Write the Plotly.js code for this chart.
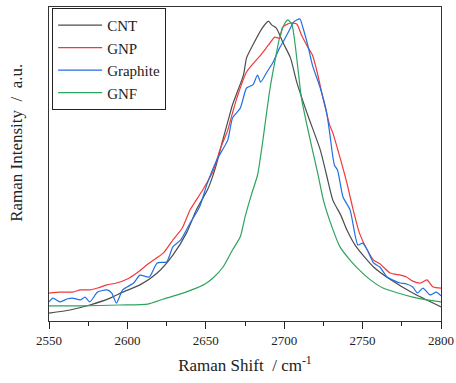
<!DOCTYPE html>
<html>
<head>
<meta charset="utf-8">
<script src="https://cdn.plot.ly/plotly-3.0.1.min.js"></script>
<style>html,body{margin:0;padding:0;background:#fff}#chart{width:456px;height:383px}</style>
</head>
<body>
<div id="chart"></div>
<script>
var seriesNames = ["CNT", "GNP", "Graphite", "GNF"];

var cntX = [2550,2563.4,2576,2589,2597,2608,2619,2629,2638,2644,2651,2654,2657,2660,2664,2667,2674,2676,2680,2686,2690,2692,2695,2699,2704,2708,2715,2723,2727,2731,2736,2740,2746,2757,2768,2782,2800];
var cntY = [0.025,0.035,0.051,0.073,0.092,0.115,0.153,0.210,0.283,0.354,0.417,0.455,0.503,0.561,0.634,0.688,0.783,0.838,0.879,0.933,0.955,0.943,0.933,0.889,0.838,0.761,0.656,0.545,0.465,0.385,0.338,0.290,0.236,0.172,0.131,0.089,0.045];

var gnpX = [2550,2557,2565,2570,2576,2581,2587,2593,2600,2606,2614,2623,2629,2635,2640,2648,2655,2659,2664,2667,2670,2676,2685,2690,2694,2697,2699,2704,2708,2711,2715,2718,2721,2725,2729,2731,2736,2740,2744,2748,2753,2757,2761,2767.5,2774,2778,2782,2787,2791,2795,2800];
var gnpY = [0.089,0.092,0.092,0.099,0.099,0.105,0.115,0.121,0.134,0.153,0.185,0.217,0.258,0.296,0.354,0.417,0.481,0.545,0.608,0.662,0.713,0.793,0.847,0.879,0.904,0.901,0.936,0.949,0.946,0.911,0.873,0.847,0.793,0.704,0.624,0.599,0.513,0.439,0.354,0.280,0.226,0.194,0.182,0.153,0.146,0.140,0.127,0.121,0.131,0.108,0.105];

var graphiteX = [2550,2552.5,2557,2561.5,2565,2570,2573,2576,2581,2587,2590,2593,2597,2604,2608,2614,2619,2625,2629,2634,2640,2646,2651,2657,2664,2667,2672,2676,2680,2683,2685,2689,2693,2697,2700,2704,2706,2710,2712,2715,2718,2723,2727,2729,2732,2734,2737.5,2742,2747,2750,2753,2757,2761,2765.6,2769,2774,2778,2782,2785,2788.5,2793,2797,2800];
var graphiteY = [0.061,0.073,0.061,0.070,0.073,0.067,0.076,0.061,0.092,0.099,0.089,0.057,0.099,0.121,0.146,0.140,0.185,0.188,0.236,0.258,0.312,0.363,0.439,0.513,0.576,0.646,0.678,0.742,0.752,0.783,0.761,0.793,0.825,0.869,0.895,0.933,0.952,0.962,0.933,0.879,0.815,0.742,0.666,0.599,0.497,0.481,0.395,0.354,0.242,0.248,0.226,0.185,0.172,0.140,0.131,0.121,0.118,0.108,0.089,0.105,0.083,0.092,0.080];

var gnfX = [2550,2570,2595,2613,2623,2632,2641,2649.5,2654.6,2661,2667,2672,2675,2679,2683,2686,2689,2691,2694,2697,2700.5,2702.4,2705,2707,2709,2711,2714.5,2718,2721.6,2725,2730.5,2735.6,2742,2748,2755,2763,2772.6,2782,2791,2800];
var gnfY = [0.048,0.048,0.051,0.054,0.070,0.083,0.099,0.118,0.137,0.172,0.226,0.268,0.331,0.401,0.465,0.561,0.672,0.742,0.825,0.901,0.949,0.959,0.943,0.879,0.793,0.710,0.624,0.545,0.465,0.385,0.299,0.236,0.194,0.162,0.131,0.105,0.089,0.076,0.067,0.061];

var xTickVals = [2550,2600,2650,2700,2750,2800];

var colors = ["#4d4d4d", "#f03a3a", "#1f6fe5", "#2ea35e"];
var xs = [cntX, gnpX, graphiteX, gnfX];
var ys = [cntY, gnpY, graphiteY, gnfY];

var traces = seriesNames.map(function(n, i){
  return {x: xs[i], y: ys[i], name: n, type: 'scatter', mode: 'lines',
    line: {color: colors[i], width: 1.2, shape: 'spline', smoothing: 0.6}, legendgroup: 'g' + i};
});

var font = "Times New Roman, Liberation Serif, DejaVu Serif, serif";
var layout = {
  width: 456, height: 383,
  margin: {l: 49, r: 15, t: 7, b: 62},
  paper_bgcolor: '#fff', plot_bgcolor: '#fff',
  font: {family: font, color: '#222', size: 13},
  showlegend: true,
  legend: {x: 0.008, y: 0.997, xanchor: 'left', yanchor: 'top',
    bgcolor: '#fff', bordercolor: '#222', borderwidth: 1,
    font: {family: font, size: 15, color: '#222'}, tracegroupgap: 0,
    itemwidth: 44},
  xaxis: {range: [2550, 2800], tickvals: xTickVals, ticks: 'outside', ticklen: 7,
    tickwidth: 1, tickcolor: '#222', showgrid: false, zeroline: false,
    showline: true, linecolor: '#333', linewidth: 1.2, mirror: true,
    tickfont: {family: font, size: 13, color: '#222'},
    minor: {dtick: 25, ticks: 'outside', ticklen: 4, tickcolor: '#222', showgrid: false},
    title: {text: 'Raman Shift&nbsp;&nbsp;/&nbsp;cm<sup>-1</sup>', font: {family: font, size: 17}, standoff: 12}},
  yaxis: {range: [0, 1], showticklabels: false, ticks: '', showgrid: false,
    zeroline: false, showline: true, linecolor: '#333', linewidth: 1.2, mirror: true,
    title: {text: '&nbsp;&nbsp;&nbsp;&nbsp;&nbsp;&nbsp;&nbsp;&nbsp;&nbsp;&nbsp;Raman Intensity&nbsp;&nbsp;/&nbsp;&nbsp;a.u.', font: {family: font, size: 17}, standoff: 20}}
};

Plotly.newPlot('chart', traces, layout, {displayModeBar: false, staticPlot: true});
</script>
</body>
</html>
